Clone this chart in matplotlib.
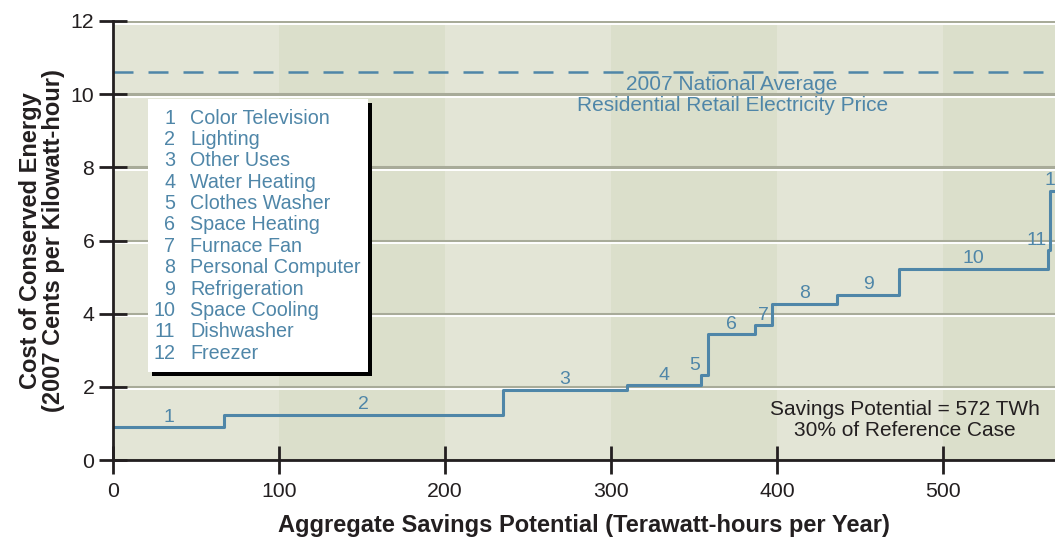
import numpy as np
import matplotlib.pyplot as plt
import matplotlib.transforms as mtransforms
from matplotlib.patches import Rectangle

plt.rcParams['font.family'] = ['Liberation Sans', 'DejaVu Sans']

# Daten: Stufen der Einsparkurve (Start, Ende, Kosten)
kategorien = ["Color Television", "Lighting", "Other Uses", "Water Heating",
              "Clothes Washer", "Space Heating", "Furnace Fan", "Personal Computer",
              "Refrigeration", "Space Cooling", "Dishwasher", "Freezer"]
grenzen = [0, 67, 235, 309.5, 354.5, 358.7, 387, 397.2, 436.4, 473.7, 563.2, 564.6, 572]
kosten = [0.90, 1.24, 1.92, 2.04, 2.32, 3.44, 3.68, 4.27, 4.52, 5.23, 5.73, 7.36]
strompreis = 10.6
x_ticks = [0, 100, 200, 300, 400, 500]
y_ticks = [0, 2, 4, 6, 8, 10, 12]

blau = '#4f86a8'
dunkel = '#231f20'

fig = plt.figure(figsize=(10.55, 5.41), dpi=100)
ax = fig.add_axes([113 / 1055, 1 - 460 / 541, 942 / 1055, 439 / 541])
ax.set_xlim(0, 567.5)
ax.set_ylim(0, 12)

# Hintergrundstreifen alle 100 Einheiten
for i, x0 in enumerate(x_ticks):
    farbe = '#e3e5d6' if i % 2 == 0 else '#dbdfcb'
    ax.axvspan(x0, x0 + 100, color=farbe, zorder=0, lw=0)

# Gitterlinien: grau mit weisser Linie darunter
unten = mtransforms.offset_copy(ax.transData, fig=fig, x=0, y=-2.5, units='dots')
for yv in y_ticks:
    ax.axhline(yv, color='#a8ab99', lw=2.2, zorder=1)
    ax.plot([0, 600], [yv, yv], color='white', lw=1.4, zorder=1, transform=unten)

# Stufenlinie
xs = np.array(grenzen)
ys = np.append(kosten, kosten[-1])
ax.step(xs, ys, where='post', color=blau, lw=2.2, zorder=3)

# Nummern an den Stufen
for i in range(len(kosten)):
    a, b = grenzen[i], grenzen[i + 1]
    nummer = str(i + 1)
    if b - a > 8:
        ax.annotate(nummer, ((a + b) / 2, kosten[i]), xytext=(0, 1),
                    textcoords='offset points', ha='center', va='bottom',
                    color=blau, fontsize=14, zorder=4)
    elif i == len(kosten) - 1:
        # letzte Nummer sitzt direkt am Rand (wird wie im Original angeschnitten)
        ax.annotate(nummer, (a, kosten[i]), xytext=(-4, 1),
                    textcoords='offset points', ha='left', va='bottom',
                    color=blau, fontsize=14, zorder=4)
    else:
        ax.annotate(nummer, (a, kosten[i]), xytext=(-1, 1),
                    textcoords='offset points', ha='right', va='bottom',
                    color=blau, fontsize=14, zorder=4)

# Durchschnittlicher Strompreis
ax.axhline(strompreis, color=blau, lw=1.8, ls=(0, (8, 6)), zorder=2)
ax.text(373, 9.97, "2007 National Average\nResidential Retail Electricity Price",
        ha='center', va='center', color=blau, fontsize=15, linespacing=1.15)

ax.text(477, 1.1, "Savings Potential = 572 TWh\n30% of Reference Case",
        ha='center', va='center', color=dunkel, fontsize=15, linespacing=1.15)

# Legendenbox mit Schatten
bx0, bx1, by0, by1 = 0.037, 0.271, 0.200, 0.822
ax.add_patch(Rectangle((bx0 + 0.004, by0 - 0.008), bx1 - bx0, by1 - by0,
                       transform=ax.transAxes, color='black', zorder=5, lw=0))
ax.add_patch(Rectangle((bx0, by0), bx1 - bx0, by1 - by0,
                       transform=ax.transAxes, color='white', zorder=6, lw=0))
for i, name in enumerate(kategorien):
    yy = 0.779 - i * 0.0487
    ax.text(0.066, yy, str(i + 1), transform=ax.transAxes, ha='right', va='center',
            color=blau, fontsize=14.2, zorder=7)
    ax.text(0.082, yy, name, transform=ax.transAxes, ha='left', va='center',
            color=blau, fontsize=14.2, zorder=7)

# Achsen
for s in ['top', 'right']:
    ax.spines[s].set_visible(False)
for s in ['left', 'bottom']:
    ax.spines[s].set_linewidth(2)
    ax.spines[s].set_color(dunkel)
    ax.spines[s].set_zorder(8)
ax.set_xticks(x_ticks)
ax.set_yticks(y_ticks)
ax.tick_params(direction='inout', length=20, width=2, color=dunkel,
               labelsize=15.3, labelcolor=dunkel)
ax.tick_params(axis='x', pad=6)
ax.set_xlabel("Aggregate Savings Potential (Terawatt-hours per Year)",
              fontsize=17, fontweight='bold', color=dunkel, labelpad=9)
ax.set_ylabel("Cost of Conserved Energy\n(2007 Cents per Kilowatt-hour)",
              fontsize=17, fontweight='bold', color=dunkel, labelpad=4,
              linespacing=1.0)

fig.savefig('out.png', dpi=100)
